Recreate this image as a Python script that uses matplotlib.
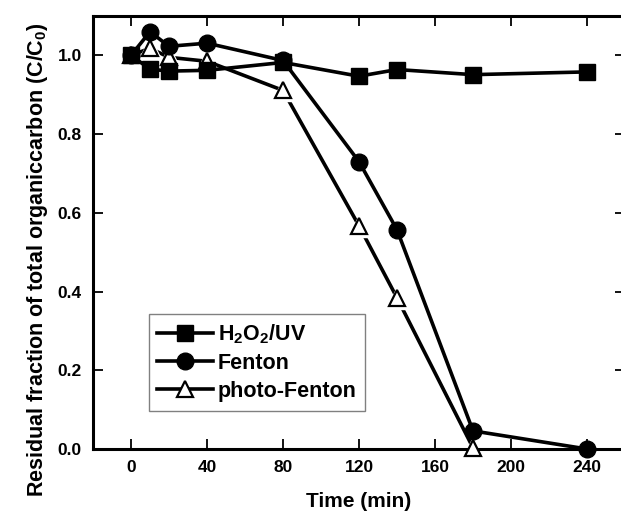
import matplotlib
matplotlib.use("Agg")
import matplotlib.pyplot as plt

plt.rcParams["font.family"] = ["Liberation Sans", "DejaVu Sans"]
plt.rcParams["font.weight"] = "bold"
plt.rcParams["mathtext.fontset"] = "custom"
plt.rcParams["mathtext.rm"] = "Liberation Sans:bold"
plt.rcParams["mathtext.it"] = "Liberation Sans:bold"
plt.rcParams["mathtext.bf"] = "Liberation Sans:bold"

# data
t_uv = [0, 10, 20, 40, 80, 120, 140, 180, 240]
c_uv = [1.0, 0.965, 0.96, 0.962, 0.982, 0.947, 0.964, 0.951, 0.958]

t_fenton = [0, 10, 20, 40, 80, 120, 140, 180, 240]
c_fenton = [1.0, 1.06, 1.023, 1.031, 0.987, 0.730, 0.557, 0.046, 0.0]

t_photo = [0, 10, 20, 40, 80, 120, 140, 180]
c_photo = [1.0, 1.018, 0.995, 0.985, 0.911, 0.567, 0.384, 0.003]

xticks = [0, 40, 80, 120, 160, 200, 240]
yticks = [0.0, 0.2, 0.4, 0.6, 0.8, 1.0]

fig = plt.figure(figsize=(6.21, 5.18), dpi=100)
ax = fig.add_axes([93 / 621, 1 - 449 / 518, 532 / 621, 433 / 518])

lw = 2.6
ax.plot(t_uv, c_uv, color="black", lw=lw, marker="s", ms=11,
        mfc="black", mec="black", label=r"H$_2$O$_2$/UV", clip_on=False, zorder=3)
ax.plot(t_fenton, c_fenton, color="black", lw=lw, marker="o", ms=12,
        mfc="black", mec="black", label="Fenton", clip_on=False, zorder=4)
ax.plot(t_photo, c_photo, color="black", lw=lw, zorder=2, clip_on=False)
# white halo so the line stops short of the open triangles
ax.plot(t_photo, c_photo, ls="none", marker="^", ms=16, mfc="white",
        mec="white", clip_on=False, zorder=2.5)
ax.plot(t_photo, c_photo, ls="none", marker="^", ms=12, mfc="white",
        mec="black", mew=1.6, clip_on=False, zorder=2.6)
ax.plot([], [], color="black", lw=lw, marker="^", ms=12, mfc="white",
        mec="black", mew=1.6, label="photo-Fenton")

ax.set_xlim(-20, 260)
ax.set_ylim(0, 1.1)
ax.set_xticks(xticks)
ax.set_yticks(yticks)
ax.set_yticklabels([f"{v:.1f}" for v in yticks])
ax.tick_params(direction="in", length=7, width=1.3, top=True, right=True,
               labelsize=12.5, pad=8)
for s in ax.spines.values():
    s.set_linewidth(2.2)

ax.set_xlabel("Time (min)", fontsize=15, fontweight="bold", labelpad=12)
ax.set_ylabel(r"Residual fraction of total organiccarbon (C/C$_0$)",
              fontsize=15.5, fontweight="bold")
ax.yaxis.set_label_coords(-0.08, 0.437)

handles, labels = ax.get_legend_handles_labels()
leg = ax.legend(handles, labels, loc="upper left", bbox_to_anchor=(0.105, 0.312),
                borderaxespad=0, fancybox=False, edgecolor="gray", fontsize=15.5,
                handlelength=2.6, handletextpad=0.2, labelspacing=0.32,
                borderpad=0.4, framealpha=1)
leg.get_frame().set_linewidth(1.0)

fig.savefig("out.png", dpi=100)
